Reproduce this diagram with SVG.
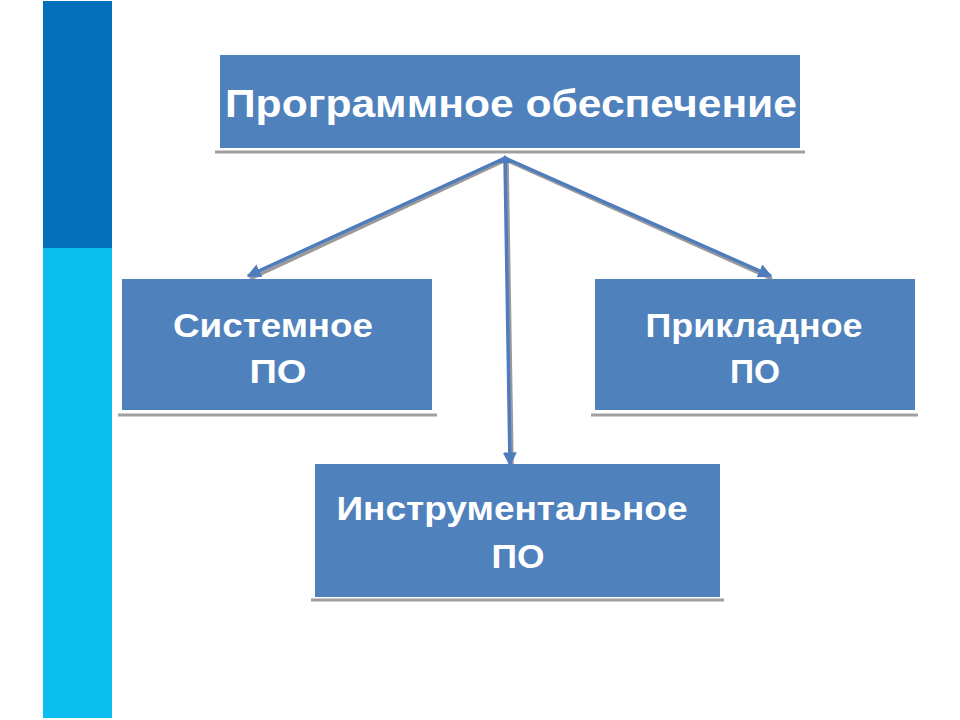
<svg xmlns="http://www.w3.org/2000/svg" width="960" height="720" viewBox="0 0 960 720">
<defs>
<style>
.box{fill:#4f81bd}
.ul{stroke:#a0a0a0;stroke-width:3}
.t{fill:#ffffff;font-family:"Liberation Sans",Arial,sans-serif;font-weight:bold;text-anchor:middle}
.c{stroke:#4f7cbc;stroke-width:3.5;fill:none}
.sh{stroke:#9a9a9a;stroke-width:3.5;fill:none}
</style>
<marker id="ah" viewBox="0 0 10 10" refX="9" refY="5" markerWidth="4" markerHeight="4" orient="auto" markerUnits="strokeWidth">
<path d="M0,0 L10,5 L0,10 z" fill="#4f7cbc"/>
</marker>
</defs>
<rect width="960" height="720" fill="#ffffff"/>
<g id="sidebar">
<rect x="43" y="1" width="69" height="247" fill="#046fbb"/>
<rect x="43" y="248" width="69" height="470" fill="#0cbdf0"/>
</g>
<g id="connectors">
<line class="sh" x1="506" y1="160" x2="250" y2="279"/>
<line class="sh" x1="506" y1="160" x2="772" y2="279"/>
<line class="sh" x1="507" y1="160" x2="512" y2="464"/>
<line class="c" x1="505" y1="158" x2="248" y2="276" marker-end="url(#ah)"/>
<line class="c" x1="505" y1="158" x2="771" y2="276" marker-end="url(#ah)"/>
<line class="c" x1="505" y1="158" x2="510" y2="465" marker-end="url(#ah)"/>
<path d="M498,163 L505,155 L512,163 z" fill="#4f7cbc"/>
</g>
<g id="root">
<line class="ul" x1="215" y1="152" x2="805" y2="152"/>
<rect class="box" x="220" y="55" width="580" height="93"/>
<text class="t" x="511" y="117" font-size="38" textLength="572" lengthAdjust="spacingAndGlyphs">Программное обеспечение</text>
</g>
<g id="system">
<line class="ul" x1="118" y1="415" x2="437" y2="415"/>
<rect class="box" x="122" y="279" width="310" height="131"/>
<text class="t" x="273" y="337" font-size="33" textLength="200" lengthAdjust="spacingAndGlyphs">Системное</text>
<text class="t" x="278" y="383" font-size="33" textLength="57" lengthAdjust="spacingAndGlyphs">ПО</text>
</g>
<g id="applied">
<line class="ul" x1="591" y1="415" x2="918" y2="415"/>
<rect class="box" x="595" y="279" width="320" height="131"/>
<text class="t" x="754" y="337" font-size="33" textLength="217" lengthAdjust="spacingAndGlyphs">Прикладное</text>
<text class="t" x="755" y="383" font-size="33" textLength="50" lengthAdjust="spacingAndGlyphs">ПО</text>
</g>
<g id="instrumental">
<line class="ul" x1="311" y1="600" x2="724" y2="600"/>
<rect class="box" x="315" y="464" width="405" height="133"/>
<text class="t" x="512" y="520" font-size="33" textLength="351" lengthAdjust="spacingAndGlyphs">Инструментальное</text>
<text class="t" x="518" y="568" font-size="33" textLength="53" lengthAdjust="spacingAndGlyphs">ПО</text>
</g>
</svg>
